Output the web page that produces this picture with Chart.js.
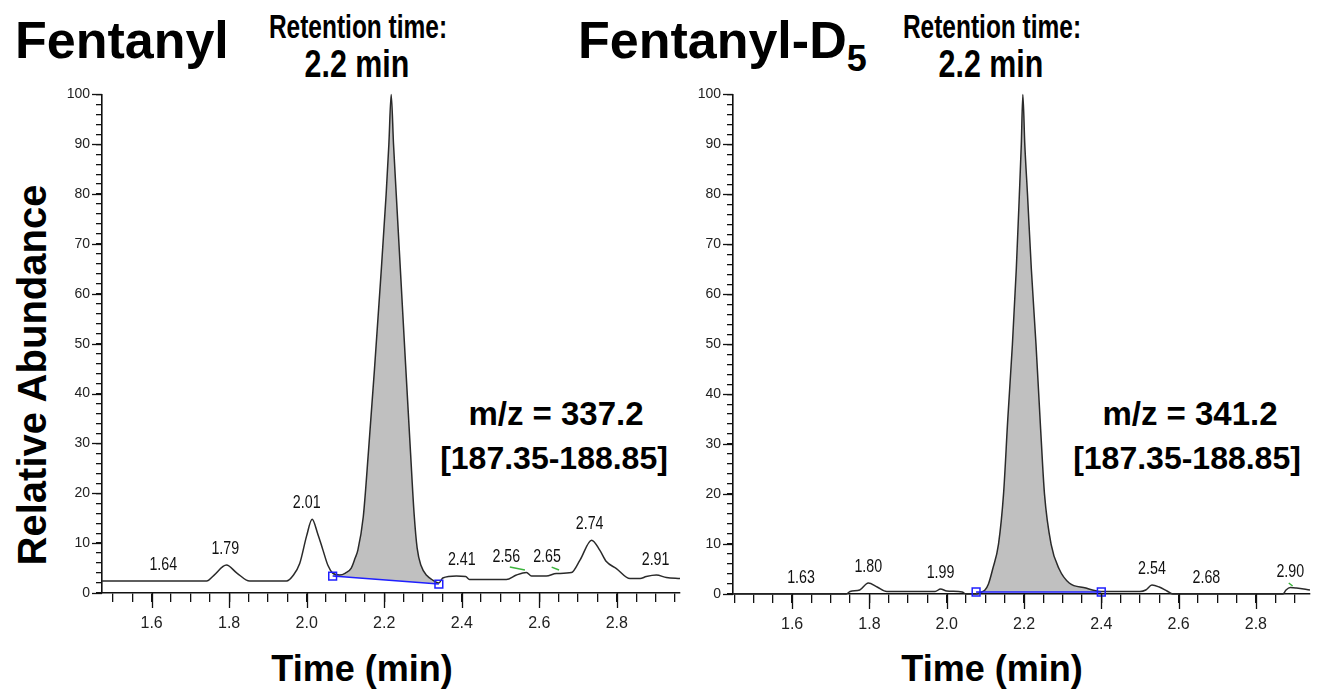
<!DOCTYPE html>
<html>
<head>
<meta charset="utf-8">
<script src="https://cdn.jsdelivr.net/npm/chart.js@4.4.0/dist/chart.umd.min.js"></script>
<style>
  body { margin: 0; background: #fff; width: 1317px; height: 695px; overflow: hidden; position: relative;
         font-family: "Liberation Sans", Arial, sans-serif; color: #000; }
  .t { position: absolute; font-weight: bold; white-space: nowrap; line-height: 1; }
  .c { text-align: center; width: 400px; }
  canvas { position: absolute; }
</style>
</head>
<body>
<div class="t" style="left:15px;top:14px;font-size:52px">Fentanyl</div>
<div class="t c" style="left:158px;top:9px;font-size:34px;transform:scaleX(0.72)">Retention time:</div>
<div class="t c" style="left:157px;top:45px;font-size:38px;transform:scaleX(0.8)">2.2 min</div>
<div class="t c" style="left:-178px;top:355px;width:420px;font-size:40px;transform:rotate(-90deg)">Relative Abundance</div>
<div class="t c" style="left:356px;top:397px;font-size:33px">m/z = 337.2</div>
<div class="t c" style="left:354px;top:442px;font-size:32px">[187.35-188.85]</div>
<div class="t c" style="left:162px;top:651px;font-size:36px">Time (min)</div>

<div class="t" style="left:578px;top:14px;font-size:52px">Fentanyl-D<span style="font-size:36px;position:relative;top:13px">5</span></div>
<div class="t c" style="left:792px;top:9px;font-size:34px;transform:scaleX(0.72)">Retention time:</div>
<div class="t c" style="left:791px;top:45px;font-size:38px;transform:scaleX(0.8)">2.2 min</div>
<div class="t c" style="left:990px;top:397px;font-size:33px">m/z = 341.2</div>
<div class="t c" style="left:987px;top:442px;font-size:32px">[187.35-188.85]</div>
<div class="t c" style="left:792px;top:651px;font-size:36px">Time (min)</div>

<canvas id="left" width="640" height="570" style="left:50px;top:80px"></canvas>
<canvas id="right" width="636" height="570" style="left:681px;top:80px"></canvas>

<script>
// Fentanyl, m/z 337.2
const leftTime = [1.472, 1.742, 1.76, 1.793, 1.82, 1.853, 1.948, 1.965, 1.982, 2.00, 2.014, 2.028, 2.042, 2.055,
  2.067, 2.085, 2.10, 2.115, 2.125, 2.132, 2.146, 2.159, 2.175, 2.19, 2.205, 2.212, 2.218, 2.224, 2.231, 2.243,
  2.255, 2.268, 2.277, 2.285, 2.295, 2.31, 2.325, 2.341, 2.351, 2.386, 2.41, 2.42, 2.515, 2.541, 2.567, 2.58,
  2.618, 2.644, 2.683, 2.705, 2.735, 2.756, 2.773, 2.799, 2.834, 2.86, 2.876, 2.902, 2.928, 2.963];
const leftAbund = [2.4, 2.4, 3.5, 5.6, 4.0, 2.4, 2.4, 3.5, 5.9, 11.5, 14.8, 12.0, 8.6, 5.5,
  4.0, 3.6, 4.0, 5.0, 7.0, 8.6, 15.3, 28, 45, 62, 80, 90, 100, 90, 80, 63,
  46, 28, 16, 9, 5.5, 3.5, 2.6, 2.0, 3.0, 3.4, 3.3, 2.7, 2.7, 3.6, 4.1, 3.4,
  3.4, 3.9, 4.1, 6.6, 10.6, 8.6, 6.3, 4.9, 2.9, 2.9, 3.3, 3.6, 3.1, 2.9];
const leftPeakLabels = ['1.64', '1.79', '2.01', '2.41', '2.56', '2.65', '2.74', '2.91'];
const leftPeakTimes = [1.63, 1.79, 2.00, 2.40, 2.515, 2.62, 2.73, 2.90];
const leftPeakHeights = [2.4, 5.6, 14.8, 3.4, 4.0, 4.0, 10.6, 3.4];
const leftAreaTime = [2.067, 2.341];
const leftAreaBase = [3.4, 1.8];
const leftMarkTimes = [[2.524, 2.563], [2.632, 2.651]];
const leftMarkAbund = [[5.2, 4.6], [5.2, 4.6]];

// Fentanyl-D5, m/z 341.2
const rightTime = [1.447, 1.74, 1.75, 1.775, 1.797, 1.82, 1.845, 1.97, 1.984, 2.00, 2.04, 2.05, 2.076, 2.09,
  2.099, 2.108, 2.119, 2.134, 2.147, 2.158, 2.170, 2.180, 2.188, 2.193, 2.197, 2.202, 2.209, 2.219, 2.231,
  2.243, 2.253, 2.27, 2.291, 2.317, 2.36, 2.377, 2.40, 2.50, 2.515, 2.531, 2.55, 2.57, 2.585, 2.87, 2.878,
  2.889, 2.905, 2.94];
const rightAbund = [0, 0, 0.5, 0.8, 2.2, 1.4, 0.5, 0.5, 1.0, 0.6, 0.4, 0, 0, 0.4,
  0.8, 2, 5, 10, 20, 35, 50, 65, 80, 90, 100, 90, 80, 65, 50,
  33, 20, 10, 5, 2.2, 1.2, 0.8, 0.5, 0.5, 0.8, 1.8, 1.4, 0.6, 0, 0, 0.8,
  1.3, 1.2, 0.8];
const rightPeakLabels = ['1.63', '1.80', '1.99', '2.54', '2.68', '2.90'];
const rightPeakTimes = [1.623, 1.797, 1.984, 2.531, 2.672, 2.889];
const rightPeakHeights = [0, 2.2, 1.0, 1.8, 0, 1.3];
const rightAreaTime = [2.076, 2.40];
const rightAreaBase = [0.4, 0.4];
const rightMarkTimes = [[2.885, 2.895]];
const rightMarkAbund = [[2.2, 1.6]];

const xTicks = { step: 0.05, labelEvery: 0.2 };
const yTicks = { step: 2, labelEvery: 10 };

const BLUE = '#1f1fff';
const isMajor = (v, every) => Math.abs(v / every - Math.round(v / every)) < 1e-6;

const chromPlugin = {
  id: 'chrom',
  afterDraw(chart, args, opts) {
    const { ctx } = chart;
    const x = chart.scales.x, y = chart.scales.y;
    ctx.save();
    ctx.strokeStyle = '#111';
    ctx.lineWidth = 1.3;
    x.ticks.forEach(t => {
      if (!isMajor(t.value, xTicks.labelEvery)) return;
      const px = Math.round(x.getPixelForValue(t.value)) + 0.5;
      ctx.beginPath(); ctx.moveTo(px, y.bottom); ctx.lineTo(px, y.bottom + 15); ctx.stroke();
    });
    y.ticks.forEach(t => {
      if (!isMajor(t.value, yTicks.labelEvery)) return;
      const py = Math.round(y.getPixelForValue(t.value)) + 0.5;
      ctx.beginPath(); ctx.moveTo(x.left, py); ctx.lineTo(x.left - 10, py); ctx.stroke();
    });
    ctx.fillStyle = '#111';
    ctx.font = '19px "Liberation Sans", Arial, sans-serif';
    ctx.textAlign = 'center';
    ctx.textBaseline = 'middle';
    opts.labels.forEach((s, i) => {
      const px = x.getPixelForValue(opts.times[i]);
      const py = y.getPixelForValue(opts.heights[i]) - 16;
      ctx.save();
      ctx.translate(px, py);
      ctx.scale(0.75, 1);
      ctx.fillText(s, 0, 0);
      ctx.restore();
    });
    ctx.restore();
  }
};

function stepTicks(scale, step) {
  const out = [];
  const a = Math.ceil(scale.min / step - 1e-9), b = Math.floor(scale.max / step + 1e-9);
  for (let i = a; i <= b; i++) out.push({ value: Math.round(i * step * 1000) / 1000 });
  scale.ticks = out;
}

function makeChart(id, d) {
  const trace = d.time.map((t, i) => ({ x: t, y: d.abund[i] }));
  const area = trace.filter(p => p.x >= d.areaTime[0] - 1e-9 && p.x <= d.areaTime[1] + 1e-9);
  const base = d.areaTime.map((t, i) => ({ x: t, y: d.areaBase[i] }));
  const marks = d.markTimes.map((ts, k) => ({
    data: ts.map((t, i) => ({ x: t, y: d.markAbund[k][i] })),
    borderColor: '#3cb43c', borderWidth: 1.5, pointRadius: 0, fill: false
  }));
  return new Chart(document.getElementById(id), {
    type: 'line',
    data: {
      datasets: [
        { data: base, borderColor: BLUE, borderWidth: 1.6, pointStyle: 'rect', pointRadius: 5.5,
          pointBorderColor: BLUE, pointBackgroundColor: 'rgba(0,0,0,0)', pointBorderWidth: 1.5, fill: false },
        { data: trace, borderColor: '#2a2a2a', borderWidth: 1.5, pointRadius: 0, fill: false,
          cubicInterpolationMode: 'monotone' },
        { data: area, borderWidth: 0, pointRadius: 0, backgroundColor: '#c0c0c0',
          fill: '-2', cubicInterpolationMode: 'monotone' },
        ...marks
      ]
    },
    options: {
      responsive: false,
      animation: false,
      devicePixelRatio: 1,
      clip: { left: 0, right: 0, top: 6, bottom: 6 },
      layout: { padding: { top: d.padTop, right: d.padRight, left: 0, bottom: 0 } },
      plugins: {
        legend: { display: false },
        tooltip: { enabled: false },
        chrom: { labels: d.peakLabels, times: d.peakTimes, heights: d.peakHeights }
      },
      scales: {
        x: {
          type: 'linear', min: d.xmin, max: d.xmax,
          afterBuildTicks: s => stepTicks(s, xTicks.step),
          afterFit: s => { s.height = d.xAxisH; },
          border: { color: '#111', width: 1.6 },
          grid: { drawOnChartArea: false, tickLength: 9, tickColor: '#111', lineWidth: 1.3 },
          ticks: {
            autoSkip: false, maxRotation: 0, padding: 12, color: '#222',
            font: { size: 16, family: '"Liberation Sans", Arial, sans-serif' },
            callback: v => isMajor(v, xTicks.labelEvery) ? v.toFixed(1) : ''
          }
        },
        y: {
          type: 'linear', min: 0, max: 100,
          afterBuildTicks: s => stepTicks(s, yTicks.step),
          afterFit: s => { s.width = 52; },
          border: { color: '#111', width: 1.6 },
          grid: { drawOnChartArea: false, tickLength: 6, tickColor: '#111', lineWidth: 1.3 },
          ticks: {
            autoSkip: false, padding: 6, color: '#222',
            font: { size: 14, family: '"Liberation Sans", Arial, sans-serif' },
            callback: v => isMajor(v, yTicks.labelEvery) ? String(Math.round(v)) : ''
          }
        }
      }
    },
    plugins: [chromPlugin]
  });
}

makeChart('left', {
  time: leftTime, abund: leftAbund, areaTime: leftAreaTime, areaBase: leftAreaBase,
  markTimes: leftMarkTimes, markAbund: leftMarkAbund,
  peakLabels: leftPeakLabels, peakTimes: leftPeakTimes, peakHeights: leftPeakHeights,
  xmin: 1.472, xmax: 2.963, padTop: 13, padRight: 10, xAxisH: 57
});
makeChart('right', {
  time: rightTime, abund: rightAbund, areaTime: rightAreaTime, areaBase: rightAreaBase,
  markTimes: rightMarkTimes, markAbund: rightMarkAbund,
  peakLabels: rightPeakLabels, peakTimes: rightPeakTimes, peakHeights: rightPeakHeights,
  xmin: 1.447, xmax: 2.94, padTop: 14, padRight: 0, xAxisH: 56
});
</script>
</body>
</html>
